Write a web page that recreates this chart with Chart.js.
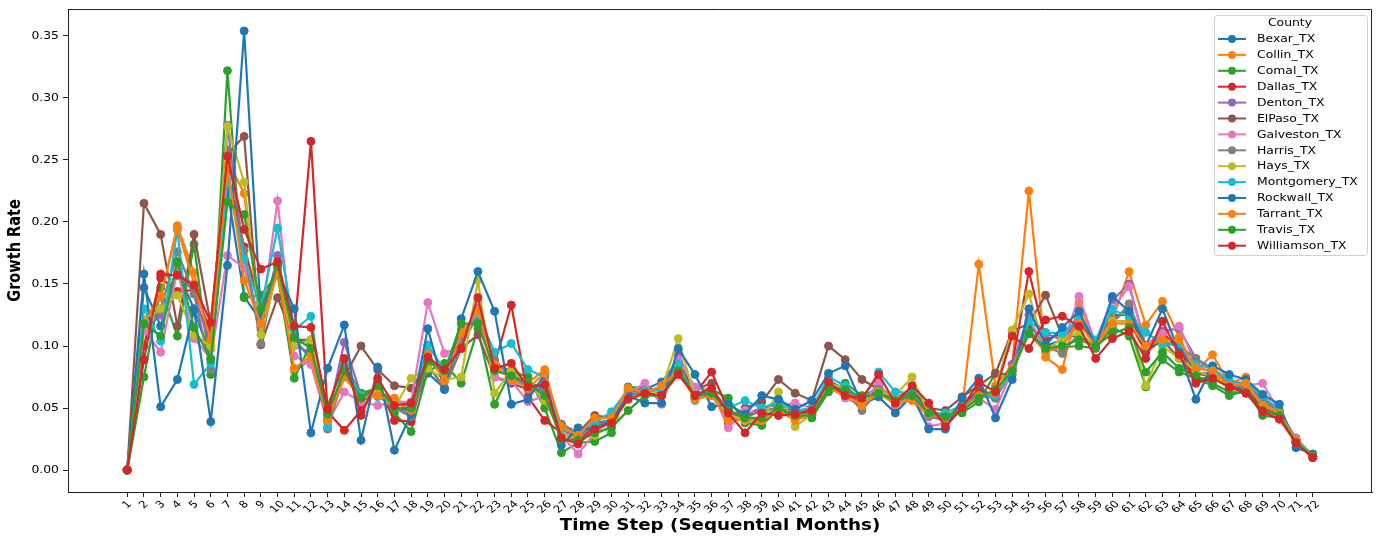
<!DOCTYPE html>
<html>
<head>
<meta charset="utf-8">
<script src="https://cdn.jsdelivr.net/npm/chart.js@4.4.1/dist/chart.umd.min.js"></script>
<style>
  html, body { margin: 0; padding: 0; background: #fff; }
  #chart { display: block; }
</style>
</head>
<body>
<canvas id="chart" width="1377" height="536"></canvas>
<script>
// time steps (x axis tick labels)
const steps = [];
for (let i = 1; i <= 72; i++) steps.push(i);

const yTicks = [0, 0.05, 0.10, 0.15, 0.20, 0.25, 0.30, 0.35];

const counties = ['Bexar_TX', 'Collin_TX', 'Comal_TX', 'Dallas_TX', 'Denton_TX', 'ElPaso_TX', 'Galveston_TX',
                  'Harris_TX', 'Hays_TX', 'Montgomery_TX', 'Rockwall_TX', 'Tarrant_TX', 'Travis_TX', 'Williamson_TX'];

// growth rate per county
const bexar = [0, .147, .116, .160, .130, .090, .226, .140, .120, .165,
  .105, .090, .045, .078, .055, .063, .050, .048, .078, .066,
  .110, .120, .085, .080, .070, .066, .030, .030, .038, .040,
  .063, .065, .071, .088, .062, .060, .045, .044, .050, .053,
  .047, .050, .072, .065, .057, .068, .056, .060, .045, .043,
  .050, .062, .058, .080, .118, .100, .105, .120, .102, .125,
  .125, .098, .110, .100, .078, .078, .070, .068, .056, .048,
  .024, .012];
const collin = [0, .121, .139, .197, .159, .098, .250, .223, .113, .163,
  .080, .089, .045, .078, .060, .062, .058, .050, .095, .073,
  .113, .122, .088, .075, .070, .081, .032, .027, .040, .044,
  .065, .064, .066, .082, .058, .061, .043, .040, .038, .050,
  .042, .046, .068, .063, .053, .063, .055, .056, .044, .040,
  .050, .166, .068, .085, .225, .091, .081, .135, .102, .121,
  .160, .117, .136, .107, .080, .093, .070, .075, .055, .046,
  .025, .011];
const comal = [0, .075, .147, .108, .182, .077, .322, .139, .141, .158,
  .074, .102, .052, .085, .062, .066, .046, .031, .080, .086,
  .070, .114, .053, .080, .075, .050, .014, .022, .023, .030,
  .067, .066, .062, .078, .066, .065, .058, .038, .036, .049,
  .043, .042, .063, .070, .060, .065, .058, .063, .048, .044,
  .046, .055, .078, .077, .114, .096, .099, .100, .098, .115,
  .108, .067, .089, .079, .074, .068, .060, .064, .044, .042,
  .022, .010];
const dallas = [0, .100, .155, .144, .145, .112, .240, .180, .130, .160,
  .110, .265, .047, .032, .048, .068, .040, .039, .088, .078,
  .100, .130, .085, .133, .059, .040, .030, .024, .035, .040,
  .060, .063, .063, .080, .062, .079, .048, .043, .048, .050,
  .046, .050, .068, .062, .055, .066, .055, .062, .047, .042,
  .052, .065, .060, .085, .160, .105, .110, .120, .100, .120,
  .120, .095, .110, .098, .072, .076, .066, .064, .050, .043,
  .023, .011];
const denton = [0, .113, .125, .163, .142, .100, .278, .170, .115, .173,
  .100, .095, .042, .103, .060, .062, .050, .045, .090, .075,
  .105, .130, .080, .078, .066, .065, .032, .026, .037, .040,
  .062, .066, .064, .093, .063, .062, .042, .045, .050, .053,
  .048, .047, .070, .064, .055, .068, .055, .062, .043, .040,
  .050, .060, .058, .085, .125, .110, .105, .125, .104, .137,
  .150, .100, .112, .114, .090, .082, .072, .068, .058, .048,
  .025, .011];
const elPaso = [0, .215, .190, .116, .190, .118, .255, .269, .101, .139,
  .105, .105, .040, .075, .100, .081, .068, .066, .085, .066,
  .098, .109, .075, .070, .065, .062, .037, .030, .044, .042,
  .063, .065, .065, .085, .065, .070, .038, .050, .055, .073,
  .062, .056, .100, .089, .073, .065, .058, .065, .050, .048,
  .059, .068, .078, .112, .118, .141, .108, .108, .100, .120,
  .130, .095, .105, .090, .078, .075, .068, .065, .052, .045,
  .024, .011];
const galveston = [0, .113, .095, .161, .106, .090, .173, .163, .118, .217,
  .092, .085, .038, .063, .055, .052, .055, .055, .135, .094,
  .100, .130, .075, .072, .055, .060, .028, .013, .030, .040,
  .062, .070, .053, .089, .067, .064, .034, .048, .045, .052,
  .054, .050, .068, .058, .052, .071, .050, .060, .035, .038,
  .050, .058, .049, .080, .121, .100, .100, .140, .102, .130,
  .148, .100, .110, .116, .085, .078, .070, .068, .070, .047,
  .026, .011];
const harris = [0, .120, .130, .176, .142, .081, .258, .177, .102, .165,
  .102, .105, .033, .078, .058, .060, .050, .043, .085, .065,
  .100, .125, .089, .075, .065, .063, .037, .030, .035, .040,
  .060, .064, .066, .085, .060, .062, .043, .042, .048, .050,
  .046, .046, .068, .063, .048, .065, .055, .060, .044, .042,
  .050, .060, .058, .082, .110, .100, .094, .110, .100, .118,
  .134, .100, .104, .100, .090, .080, .070, .066, .056, .047,
  .024, .011];
const hays = [0, .120, .130, .141, .109, .100, .277, .232, .109, .160,
  .100, .105, .045, .075, .058, .062, .050, .074, .082, .073,
  .075, .153, .062, .080, .070, .056, .030, .025, .028, .036,
  .048, .060, .065, .106, .058, .060, .045, .040, .040, .063,
  .035, .045, .070, .066, .055, .063, .060, .075, .046, .042,
  .050, .058, .065, .113, .142, .095, .107, .110, .100, .120,
  .120, .068, .100, .090, .080, .075, .068, .070, .052, .047,
  .024, .011];
const montgomery = [0, .130, .104, .194, .069, .086, .235, .170, .130, .195,
  .113, .124, .035, .085, .060, .059, .055, .050, .101, .080,
  .110, .126, .095, .102, .081, .075, .033, .030, .038, .047,
  .065, .064, .065, .085, .056, .064, .050, .056, .050, .055,
  .048, .050, .075, .068, .056, .079, .063, .062, .045, .046,
  .052, .059, .060, .080, .120, .111, .110, .122, .105, .129,
  .124, .111, .102, .100, .085, .082, .072, .070, .060, .048,
  .025, .012];
const rockwall = [0, .158, .051, .073, .129, .039, .165, .354, .125, .160,
  .130, .030, .082, .117, .024, .083, .016, .045, .114, .065,
  .122, .160, .128, .053, .057, .077, .020, .034, .033, .040,
  .060, .054, .054, .098, .077, .051, .053, .045, .060, .057,
  .049, .056, .078, .084, .053, .059, .046, .060, .033, .033,
  .058, .074, .042, .073, .130, .101, .115, .128, .100, .140,
  .128, .100, .130, .095, .057, .084, .077, .073, .061, .053,
  .018, .013];
const tarrant = [0, .118, .140, .195, .150, .105, .245, .153, .118, .160,
  .082, .092, .040, .075, .058, .060, .055, .048, .093, .072,
  .110, .128, .085, .073, .066, .078, .035, .028, .042, .042,
  .066, .062, .068, .080, .057, .060, .040, .041, .040, .048,
  .040, .045, .066, .060, .052, .062, .053, .057, .045, .042,
  .049, .060, .062, .082, .110, .095, .100, .118, .100, .118,
  .118, .100, .105, .105, .082, .080, .068, .070, .052, .046,
  .024, .011];
const travis = [0, .118, .108, .168, .115, .089, .216, .206, .130, .165,
  .107, .098, .045, .080, .058, .068, .050, .050, .088, .080,
  .118, .118, .080, .076, .070, .060, .025, .024, .030, .034,
  .048, .060, .060, .080, .060, .062, .048, .042, .042, .050,
  .044, .044, .066, .065, .058, .062, .056, .060, .046, .043,
  .048, .058, .065, .080, .110, .098, .100, .105, .100, .110,
  .115, .079, .095, .082, .076, .070, .063, .062, .048, .044,
  .022, .011];
const williamson = [0, .089, .158, .157, .149, .119, .253, .194, .162, .168,
  .116, .115, .049, .090, .044, .074, .052, .054, .091, .081,
  .098, .139, .082, .086, .067, .069, .026, .021, .033, .038,
  .057, .062, .060, .077, .060, .066, .046, .030, .046, .044,
  .045, .048, .071, .060, .058, .077, .054, .068, .054, .035,
  .050, .071, .063, .108, .098, .121, .124, .116, .090, .106,
  .112, .090, .120, .093, .070, .074, .067, .062, .047, .041,
  .022, .010];

const seriesData = [bexar, collin, comal, dallas, denton, elPaso, galveston,
                    harris, hays, montgomery, rockwall, tarrant, travis, williamson];

// matplotlib tab10, wraps round after 10
const colors = ['#1f77b4', '#ff7f0e', '#2ca02c', '#d62728', '#9467bd',
                '#8c564b', '#e377c2', '#7f7f7f', '#bcbd22', '#17becf'];

const SX = 1.18;   // text in the picture is a bit wider than tall
const FONT = '"DejaVu Sans", sans-serif';

function stretchedText(ctx, txt, x, y, size, weight, align, baseline, rot) {
    ctx.save();
    ctx.translate(x, y);
    ctx.scale(SX, 1);
    if (rot) ctx.rotate(rot);
    ctx.font = weight + ' ' + size + 'px ' + FONT;
    ctx.textAlign = align;
    ctx.textBaseline = baseline;
    ctx.fillStyle = '#000';
    ctx.fillText(txt, 0, 0);
    ctx.restore();
}

// axis labels, ticks text, frame and legend
const decorPlugin = {
    id: 'decor',
    afterDraw(chart) {
        const ctx = chart.ctx;
        const area = chart.chartArea;
        const xs = chart.scales.x, ys = chart.scales.y;

        // top and right spines
        ctx.save();
        ctx.strokeStyle = '#222';
        ctx.lineWidth = 1;
        ctx.beginPath();
        ctx.moveTo(area.left, area.top + 0.5);
        ctx.lineTo(area.right - 0.5, area.top + 0.5);
        ctx.lineTo(area.right - 0.5, area.bottom);
        ctx.stroke();
        ctx.restore();

        // y tick labels
        yTicks.forEach(v => {
            stretchedText(ctx, v.toFixed(2), area.left - 9, ys.getPixelForValue(v), 10.5, 'normal', 'right', 'middle');
        });

        // x tick labels, rotated 45 deg and centred under tick
        ctx.font = 'normal 10px ' + FONT;
        steps.forEach(s => {
            const w = ctx.measureText(String(s)).width;
            const box = (w + 7.5) * 0.7071;
            const px = xs.getPixelForValue(s);
            stretchedText(ctx, String(s), px, area.bottom + 8 + box / 2, 10, 'normal', 'center', 'middle', -Math.PI / 4);
        });

        // axis titles
        stretchedText(ctx, 'Time Step (Sequential Months)', (area.left + area.right) / 2, 526, 15.5, 'bold', 'center', 'middle');
        stretchedText(ctx, 'Growth Rate', 16, (area.top + area.bottom) / 2, 14.5, 'bold', 'center', 'middle', -Math.PI / 2);

        // legend box
        const lx = 1214, ly = 15, lw = 153, lh = 240;
        ctx.save();
        ctx.fillStyle = 'rgba(255,255,255,0.85)';
        ctx.strokeStyle = '#d0d0d0';
        ctx.lineWidth = 1;
        ctx.beginPath();
        ctx.roundRect(lx + 0.5, ly + 0.5, lw, lh, 3);
        ctx.fill();
        ctx.stroke();
        ctx.restore();

        stretchedText(ctx, 'County', 1290, 23.5, 10.5, 'normal', 'center', 'middle');

        chart.data.datasets.forEach((ds, i) => {
            const y = 39 + i * 15.9;
            ctx.save();
            ctx.strokeStyle = ds.borderColor;
            ctx.fillStyle = ds.borderColor;
            ctx.lineWidth = 2;
            ctx.beginPath();
            ctx.moveTo(1218, y);
            ctx.lineTo(1246, y);
            ctx.stroke();
            ctx.beginPath();
            ctx.arc(1232, y, 4, 0, Math.PI * 2);
            ctx.fill();
            ctx.restore();
            stretchedText(ctx, ds.label, 1257, y + 0.5, 10.5, 'normal', 'left', 'middle');
        });
    }
};

const datasets = counties.map((name, i) => ({
    label: name,
    data: seriesData[i],
    borderColor: colors[i % 10],
    backgroundColor: colors[i % 10],
    pointBackgroundColor: colors[i % 10],
    pointBorderColor: colors[i % 10],
    borderWidth: 2.2,
    pointRadius: 4,
    pointBorderWidth: 1,
    tension: 0,
    fill: false,
    order: counties.length - i   // later counties drawn on top, like matplotlib
}));

new Chart(document.getElementById('chart'), {
    type: 'line',
    data: { labels: steps, datasets: datasets },
    options: {
        responsive: false,
        animation: false,
        devicePixelRatio: 1,
        layout: { padding: { top: 9, right: 4, left: 0, bottom: 0 } },
        plugins: {
            legend: { display: false },
            tooltip: { enabled: false }
        },
        scales: {
            x: {
                type: 'linear',
                min: -2.55,
                max: 75.55,
                afterBuildTicks: scale => { scale.ticks = steps.map(v => ({ value: v })); },
                afterFit: scale => { scale.height = 44; },
                ticks: { display: false },
                grid: { drawOnChartArea: false, drawTicks: true, tickLength: 5, color: '#222' },
                border: { display: true, color: '#222', width: 1 }
            },
            y: {
                min: -0.0177,
                max: 0.3717,
                afterBuildTicks: scale => { scale.ticks = yTicks.map(v => ({ value: v })); },
                afterFit: scale => { scale.width = 68; },
                ticks: { display: false },
                grid: { drawOnChartArea: false, drawTicks: true, tickLength: 5, color: '#222' },
                border: { display: true, color: '#222', width: 1 }
            }
        }
    },
    plugins: [decorPlugin]
});
</script>
</body>
</html>
